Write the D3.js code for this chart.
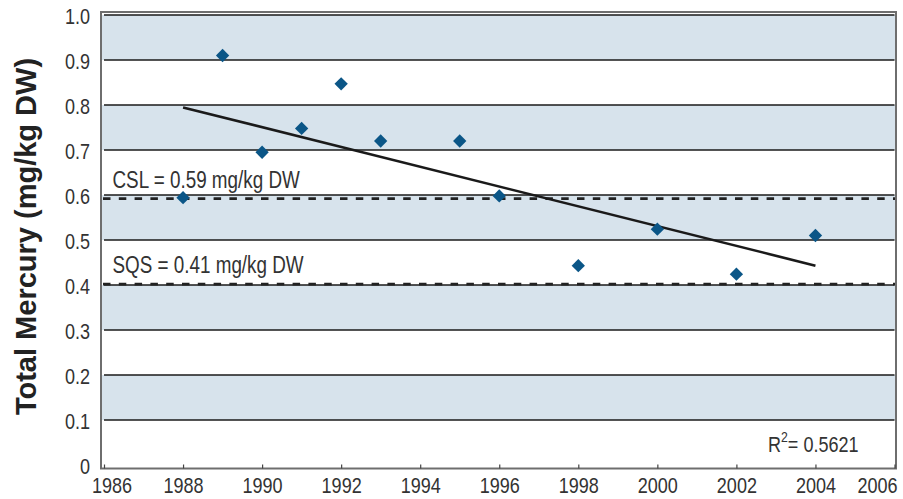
<!DOCTYPE html>
<html>
<head>
<meta charset="utf-8">
<script src="https://cdn.jsdelivr.net/npm/d3@7"></script>
<style>
  html, body { margin: 0; padding: 0; background: #fff; }
  svg { display: block; }
  text { font-family: 'Liberation Sans', Arial, sans-serif; }
</style>
</head>
<body>
<svg id="chart" width="903" height="499"></svg>
<script>
// ---- data ----
const years = [1988, 1989, 1990, 1991, 1992, 1993, 1995, 1996, 1998, 2000, 2002, 2004];
const mercury = [0.594, 0.910, 0.695, 0.748, 0.847, 0.720, 0.720, 0.598, 0.443, 0.524, 0.424, 0.510];
const xTicks = [1986, 1988, 1990, 1992, 1994, 1996, 1998, 2000, 2002, 2004, 2006];
const yTicks = [0, 0.1, 0.2, 0.3, 0.4, 0.5, 0.6, 0.7, 0.8, 0.9, 1.0];
const yTickLabels = ["0", "0.1", "0.2", "0.3", "0.4", "0.5", "0.6", "0.7", "0.8", "0.9", "1.0"];
const refNames = ["CSL = 0.59 mg/kg DW", "SQS = 0.41 mg/kg DW"];
const refValues = [0.592, 0.402];
const r2Text = "0.5621";
const yTitle = "Total Mercury (mg/kg DW)";

// ---- layout ----
const svg = d3.select("#chart");
const x = d3.scaleLinear().domain([1986, 2006]).range([104, 894.5]);
const y = d3.scaleLinear().domain([0, 1]).range([465, 15]);
const frame = { x0: 101, x1: 896, y0: 12, y1: 468.5 };
const textColor = "#333";
const SX = 0.82; // horizontal condensing factor

// bands (every other interval, starting at 0.1)
const bands = d3.range(0, yTicks.length - 1).filter(i => i % 2 === 1);
svg.append("g").selectAll("rect").data(bands).join("rect")
  .attr("x", frame.x0 + 1)
  .attr("width", x(2006) - frame.x0)
  .attr("y", i => y(yTicks[i + 1]))
  .attr("height", i => y(yTicks[i]) - y(yTicks[i + 1]))
  .attr("fill", "#d7e3ec");

// gridlines
svg.append("g").selectAll("line").data(yTicks.filter(v => v > 0)).join("line")
  .attr("x1", x(1986)).attr("x2", x(2006))
  .attr("y1", d => y(d)).attr("y2", d => y(d))
  .attr("stroke", "#1a1a1a").attr("stroke-width", 1.3);

// frame
svg.append("rect")
  .attr("x", frame.x0).attr("y", frame.y0)
  .attr("width", frame.x1 - frame.x0).attr("height", frame.y1 - frame.y0)
  .attr("fill", "none").attr("stroke", "#6e6e6e").attr("stroke-width", 2);

// reference dashed lines
svg.append("g").selectAll("line").data(refValues).join("line")
  .attr("x1", frame.x0 + 2).attr("x2", frame.x1 - 1)
  .attr("y1", d => y(d)).attr("y2", d => y(d))
  .attr("stroke", "#222").attr("stroke-width", 2.6)
  .attr("stroke-dasharray", "7.5,8.3");

svg.append("g").selectAll("text").data(refValues).join("text")
  .attr("transform", d => `translate(112.5,${y(d) - 11}) scale(${SX},1)`)
  .attr("font-size", 23).attr("fill", textColor)
  .text((d, i) => refNames[i]);

// trend line (least squares fit of the data)
const n = years.length;
const mx = d3.mean(years), my = d3.mean(mercury);
let sxy = 0, sxx = 0;
for (let i = 0; i < n; i++) { sxy += (years[i] - mx) * (mercury[i] - my); sxx += (years[i] - mx) ** 2; }
const slope = sxy / sxx, icpt = my - slope * mx;
const tx = d3.extent(years);
svg.append("line")
  .attr("x1", x(tx[0])).attr("y1", y(icpt + slope * tx[0]))
  .attr("x2", x(tx[1])).attr("y2", y(icpt + slope * tx[1]))
  .attr("stroke", "#1a1a1a").attr("stroke-width", 2.6);

// points
const diamond = d3.symbol().type(d3.symbolDiamond2).size(113);
svg.append("g").selectAll("path").data(years).join("path")
  .attr("d", diamond)
  .attr("transform", (d, i) => `translate(${x(d)},${y(mercury[i])})`)
  .attr("fill", "#0b5687");

// y axis labels
const yAxis = d3.axisLeft(y).tickValues(yTicks).tickSize(0).tickPadding(0)
  .tickFormat((d, i) => yTickLabels[i]);
const gy = svg.append("g").attr("transform", "translate(90,1.5)").call(yAxis);
gy.select(".domain").remove();
gy.selectAll("text")
  .attr("font-family", null).attr("font-size", 22).attr("fill", textColor)
  .attr("x", 0).attr("transform", `scale(${SX},1)`);

// x axis
const xAxis = d3.axisBottom(x).tickValues(xTicks).tickSize(-4).tickPadding(12).tickFormat(d3.format("d"));
const gx = svg.append("g").attr("transform", `translate(0,${frame.y1})`).call(xAxis);
gx.select(".domain").remove();
gx.selectAll(".tick line").attr("stroke", "#444").attr("stroke-width", 1.2);
gx.selectAll("text").attr("font-size", 22).attr("fill", textColor)
  .attr("dy", "0.55em").attr("transform", `scale(${SX},1)`);
gx.selectAll(".tick").filter(d => d === xTicks[0]).select("text")
  .attr("text-anchor", "start").attr("x", -12.5 / SX);
gx.selectAll(".tick").filter(d => d === xTicks[xTicks.length - 1]).select("text")
  .attr("text-anchor", "end").attr("x", (frame.x1 - x(2006) + 1) / SX);

// R² label
const r2 = svg.append("text")
  .attr("transform", `translate(768,451.5) scale(${SX},1)`)
  .attr("font-size", 22).attr("fill", textColor);
r2.append("tspan").text("R");
r2.append("tspan").attr("font-size", 15).attr("dy", -10).text("2");
r2.append("tspan").attr("dy", 10).text("= " + r2Text);

// y title
svg.append("text")
  .attr("transform", "translate(36,236.5) rotate(-90)")
  .attr("text-anchor", "middle")
  .attr("font-weight", "bold").attr("font-size", 29).attr("fill", "#222")
  .text(yTitle);
</script>
</body>
</html>
